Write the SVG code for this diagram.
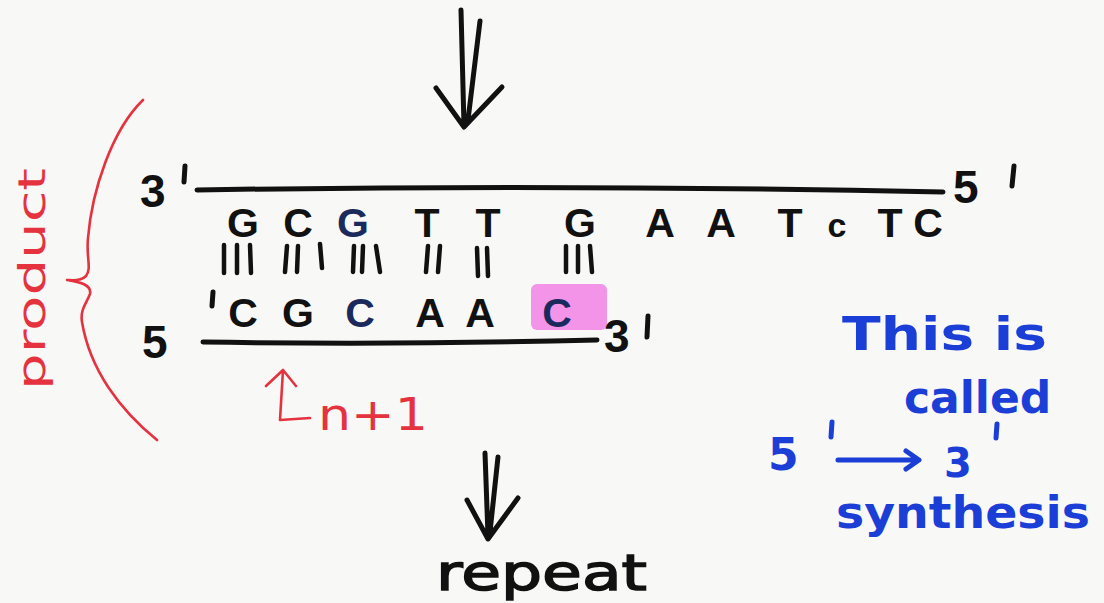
<svg xmlns="http://www.w3.org/2000/svg" width="1104" height="603" viewBox="0 0 1104 603">
  <defs>
    <style>
      .ink { fill: none; stroke: #111; stroke-width: 5; stroke-linecap: round; stroke-linejoin: round; }
      .tick { fill: none; stroke: #111; stroke-width: 4.5; stroke-linecap: round; }
      .red { fill: none; stroke: #e5323f; stroke-width: 2.6; stroke-linecap: round; stroke-linejoin: round; }
      .blue { fill: none; stroke: #1b3fd6; stroke-width: 5; stroke-linecap: round; stroke-linejoin: round; }
      .base { font-family: "Liberation Sans", "DejaVu Sans", sans-serif; font-weight: bold; font-size: 41px; fill: #111; text-anchor: middle; }
      .navy { fill: #1b2a5c; }
      .end { font-family: "Liberation Sans", "DejaVu Sans", sans-serif; font-weight: bold; font-size: 46px; fill: #111; }
      .word { font-family: "DejaVu Sans", "Liberation Sans", sans-serif; font-size: 50px; fill: #111; stroke: #111; stroke-width: 1.5; }
      .redtxt { font-family: "DejaVu Sans", "Liberation Sans", sans-serif; fill: #e5323f; }
      .bluetxt { font-family: "DejaVu Sans", "Liberation Sans", sans-serif; font-weight: bold; fill: #1b3fd6; }
    </style>
  </defs>

  <rect width="1104" height="603" fill="#f8f8f6"/>

  <!-- double arrow pointing down into the duplex -->
  <g id="arrow-top">
    <path class="ink" d="M461 10 L464 126 M480 21 L468 120 M436 88 L464 127 L502 87"/>
  </g>

  <!-- template strand, 3' to 5' -->
  <g id="template-strand">
    <path class="ink" d="M197 190 Q560 184 943 192"/>
    <text class="end" x="140" y="207">3</text>
    <path class="ink" d="M185 166 L184 182"/>
    <text class="end" x="953" y="203">5</text>
    <path class="ink" d="M1014 166 L1012 186"/>
    <text class="base" y="237">
      <tspan x="243">G</tspan><tspan x="298">C</tspan><tspan x="353" class="navy">G</tspan><tspan x="427">T</tspan><tspan x="488">T</tspan><tspan x="580">G</tspan><tspan x="660">A</tspan><tspan x="721">A</tspan><tspan x="790">T</tspan><tspan x="837" font-size="34">c</tspan><tspan x="890">T</tspan><tspan x="928">C</tspan>
    </text>
  </g>

  <!-- hydrogen bonds between paired bases -->
  <g id="hydrogen-bonds">
    <path class="tick" d="M224 245 L224 273 M237 245 L237 273 M250 245 L251 273
                          M287 246 L285 272 M298 246 L297 272 M320 244 L322 268
                          M354 246 L353 272 M363 246 L362 272 M376 246 L380 272
                          M428 246 L426 272 M440 246 L438 272
                          M477 248 L478 276 M487 248 L488 276
                          M566 246 L566 272 M578 246 L578 272 M590 246 L592 272"/>
  </g>

  <!-- new strand being synthesised, 5' to 3' -->
  <g id="new-strand">
    <rect x="531" y="284" width="76" height="46" rx="6" fill="#f27ae6" opacity="0.8"/>
    <path class="ink" d="M203 342 Q400 345 597 340"/>
    <text class="end" x="142" y="358">5</text>
    <path class="ink" d="M213 292 L212 306"/>
    <text class="base" y="327">
      <tspan x="243">C</tspan><tspan x="298">G</tspan><tspan x="360" class="navy">C</tspan><tspan x="430">A</tspan><tspan x="480">A</tspan><tspan x="557" class="navy">C</tspan>
    </text>
    <text class="end" x="604" y="352" font-size="42">3</text>
    <path class="ink" d="M648 316 L647 337"/>
  </g>

  <!-- bracket marking the product -->
  <g id="product-bracket">
    <path class="red" d="M143 100 C112 130 92 190 88 238 C86 258 92 268 86 276 C80 282 70 280 67 280 C78 282 92 284 90 294 C86 304 80 310 82 322 C90 370 120 410 157 440"/>
    <text class="redtxt" x="0" y="0" font-size="38" transform="translate(45 390) rotate(-90)" textLength="222" lengthAdjust="spacingAndGlyphs">product</text>
  </g>

  <!-- position of the next nucleotide -->
  <g id="next-position">
    <path class="red" d="M283 370 L280 420 L310 418 M266 386 L283 370 L296 386"/>
    <text class="redtxt" x="318" y="430" font-size="44" textLength="110" lengthAdjust="spacingAndGlyphs">n+1</text>
  </g>

  <!-- side note in blue -->
  <g id="note">
    <text class="bluetxt" x="842" y="350" font-size="46" textLength="205" lengthAdjust="spacingAndGlyphs">This is</text>
    <text class="bluetxt" x="904" y="413" font-size="44">called</text>
    <text class="bluetxt" x="768" y="470" font-size="44">5</text>
    <path class="blue" d="M832 422 L831 437"/>
    <path class="blue" d="M838 460 L918 460 M906 451 L919 460 L906 469"/>
    <text class="bluetxt" x="944" y="477" font-size="40">3</text>
    <path class="blue" d="M997 424 L996 438"/>
    <text class="bluetxt" x="836" y="528" font-size="44" textLength="254" lengthAdjust="spacingAndGlyphs">synthesis</text>
  </g>

  <!-- double arrow to the next cycle -->
  <g id="arrow-repeat">
    <path class="ink" d="M485 453 L488 536 M498 457 L490 532 M467 500 L488 539 L518 498"/>
    <text class="word" x="436" y="590" textLength="211" lengthAdjust="spacingAndGlyphs">repeat</text>
  </g>
</svg>
